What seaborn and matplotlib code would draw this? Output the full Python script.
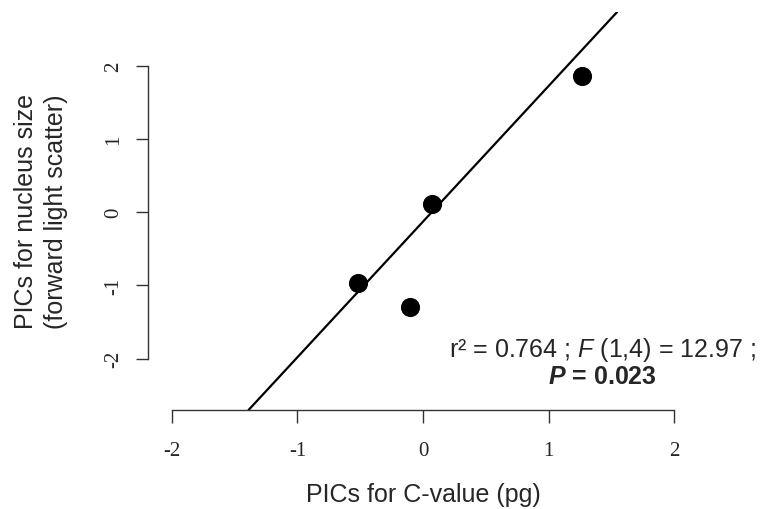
import numpy as np
import pandas as pd
import seaborn as sns
import matplotlib.pyplot as plt

# phylogenetically independent contrasts
pic_cvalue = [1.27, 0.07, -0.52, -0.10]
pic_nucleus = [1.86, 0.11, -0.97, -1.30]
fit_intercept = -0.13
fit_slope = 1.85
ticks = [-2, -1, 0, 1, 2]

df = pd.DataFrame({"cvalue": pic_cvalue, "nucleus": pic_nucleus})

sns.set_style("ticks")
plt.rcParams["font.family"] = ["Liberation Sans", "DejaVu Sans"]
plt.rcParams["mathtext.fontset"] = "custom"
plt.rcParams["mathtext.rm"] = "Liberation Sans"
plt.rcParams["mathtext.it"] = "Liberation Sans:italic"
plt.rcParams["mathtext.bf"] = "Liberation Sans:bold"
plt.rcParams["mathtext.bfit"] = "Liberation Sans:italic:bold"

fig = plt.figure(figsize=(7.68, 5.10), dpi=100)
ax = fig.add_axes([148 / 768, 1 - 411 / 510, (698 - 148) / 768, (411 - 13) / 510])

sns.scatterplot(data=df, x="cvalue", y="nucleus", color="black", s=190,
                edgecolor="black", linewidth=0, ax=ax, zorder=3)
ax.axline((0, fit_intercept), slope=fit_slope, color="black", lw=1.6)

ax.set_xlim(-2.19, 2.19)
ax.set_ylim(-2.70, 2.73)
ax.set_xticks(ticks)
ax.set_yticks(ticks)
ax.set_xticklabels([str(t) for t in ticks], family="Liberation Serif", fontsize=15)
ax.set_yticklabels([str(t) for t in ticks], family="Liberation Serif", fontsize=15,
                   rotation=90, va="center")
ax.tick_params(axis="x", length=9, width=1, color="#333333", pad=13)
ax.tick_params(axis="y", length=9, width=1, color="#333333", pad=9)
for side in ["top", "right"]:
    ax.spines[side].set_visible(False)
for side in ["left", "bottom"]:
    ax.spines[side].set_bounds(-2, 2)
    ax.spines[side].set_linewidth(1)
    ax.spines[side].set_color("#333333")

ax.set_xlabel("PICs for C-value (pg)", fontsize=18, va="center")
ax.xaxis.set_label_coords(0.5, -0.212)
ax.set_ylabel("PICs for nucleus size\n(forward light scatter)", fontsize=18,
              va="center", linespacing=1.3)
ax.yaxis.set_label_coords(-0.195, 0.5)

ax.text(1.43, -1.87, r"r² = 0.764 ; $\mathit{F}$ (1,4) = 12.97 ;",
        ha="center", va="center", fontsize=18, clip_on=False)
ax.text(1.43, -2.24, r"$\mathbfit{P}$ = 0.023", ha="center", va="center",
        fontsize=18, fontweight="bold", clip_on=False)

plt.savefig("out.png", dpi=100)
